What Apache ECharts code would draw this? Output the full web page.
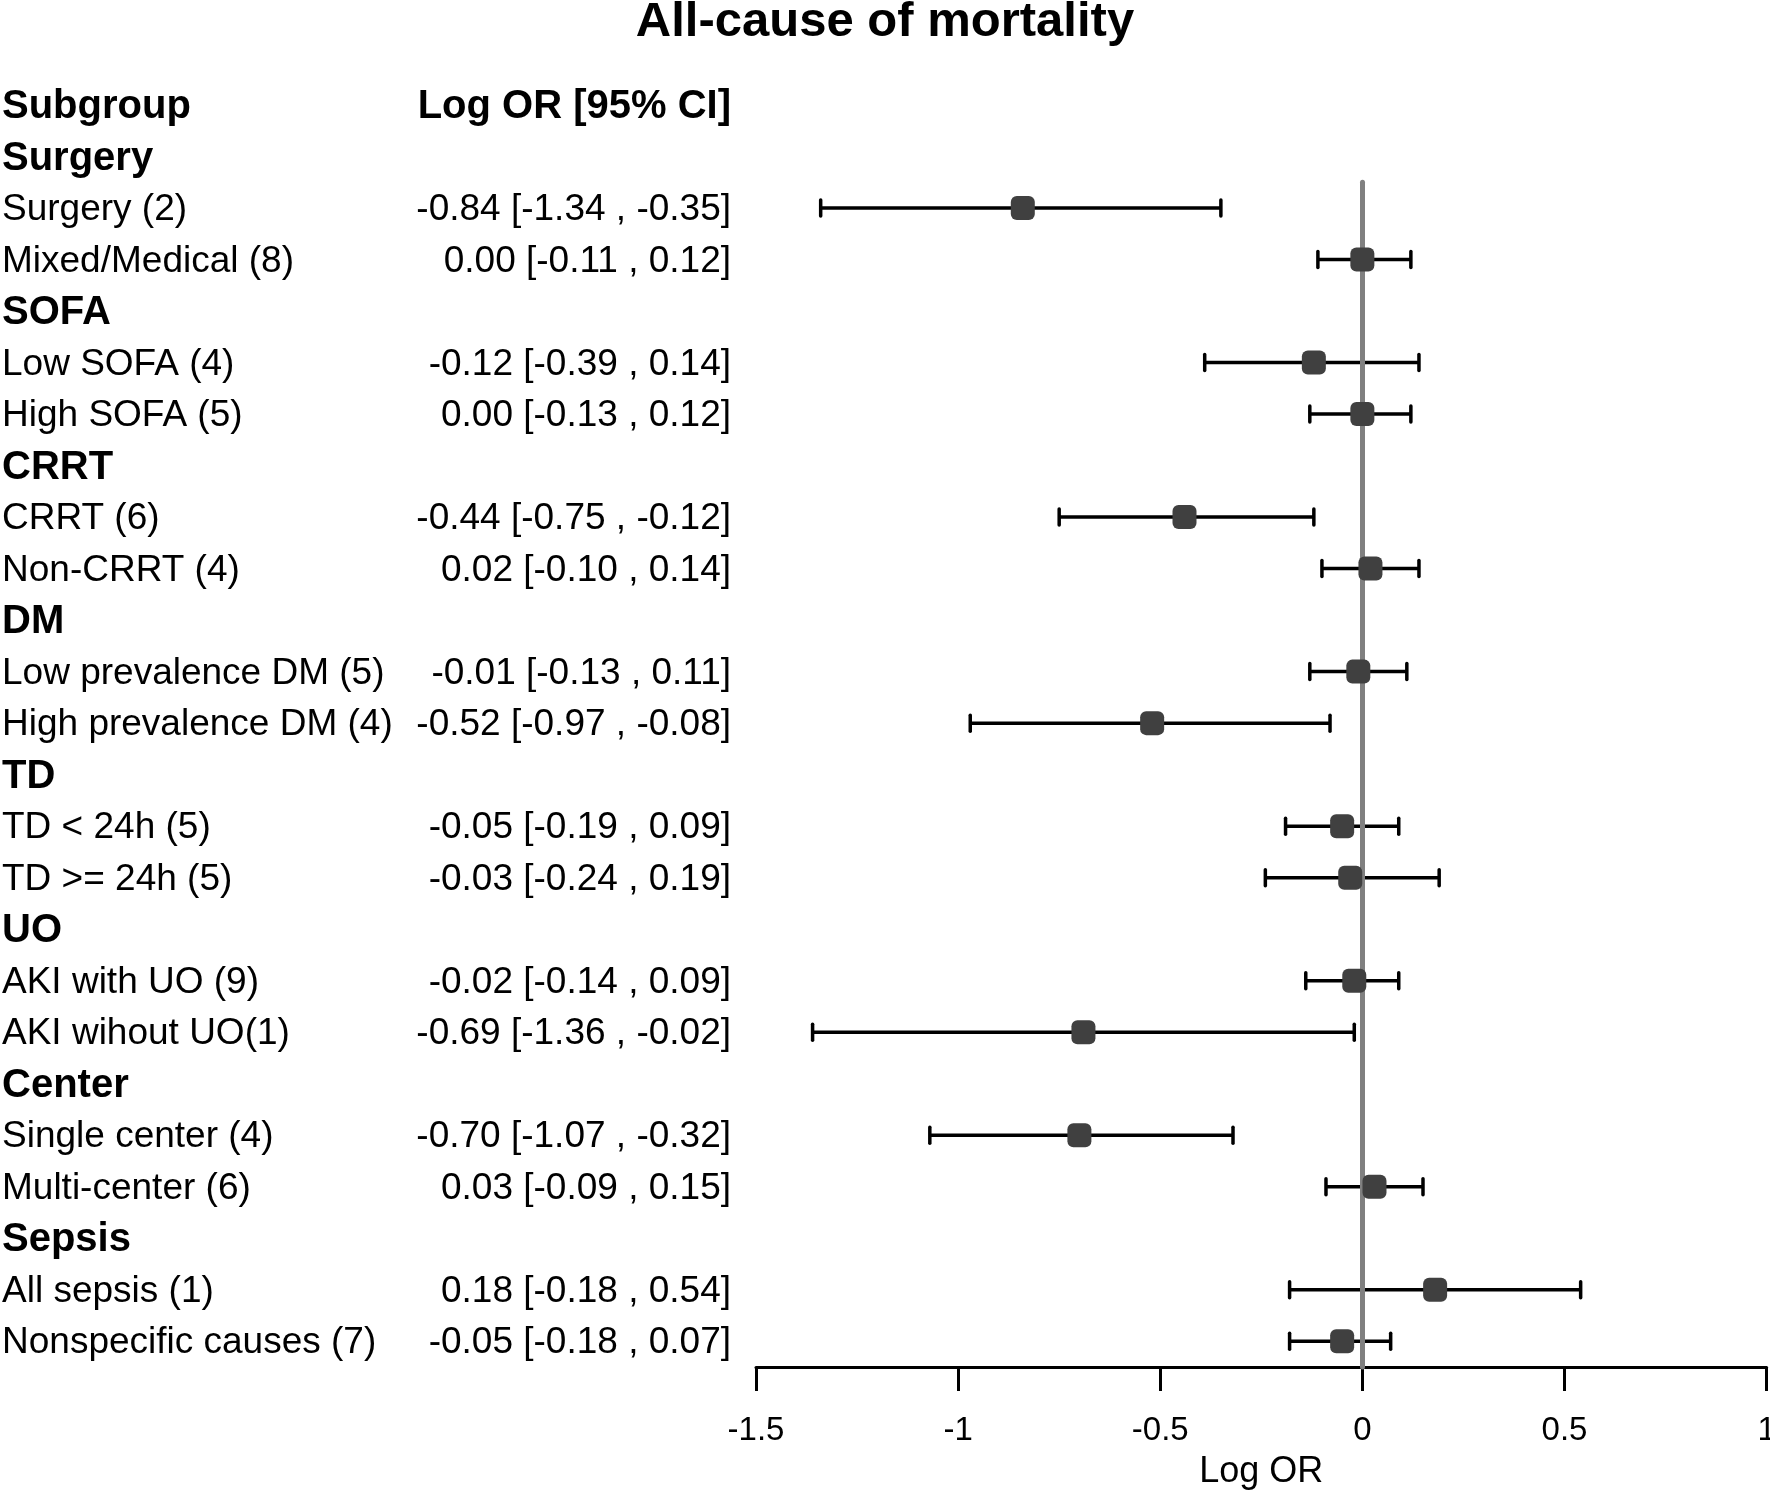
<!DOCTYPE html>
<html>
<head>
<meta charset="utf-8">
<script src="https://cdn.jsdelivr.net/npm/echarts@6/dist/echarts.min.js"></script>
<style>
  html, body { margin: 0; padding: 0; background: #fff; }
  #chart { width: 1770px; height: 1491px; }
</style>
</head>
<body>
<div id="chart"></div>
<script>
const groups = ["Surgery", "SOFA", "CRRT", "DM", "TD", "UO", "Center", "Sepsis"]
const subgroups = [
    ["Surgery (2)", "Mixed/Medical (8)"],
    ["Low SOFA (4)", "High SOFA (5)"],
    ["CRRT (6)", "Non-CRRT (4)"],
    ["Low prevalence DM (5)", "High prevalence DM (4)"],
    ["TD < 24h (5)", "TD >= 24h (5)"],
    ["AKI with UO (9)", "AKI wihout UO(1)"],
    ["Single center (4)", "Multi-center (6)"],
    ["All sepsis (1)", "Nonspecific causes (7)"]
]
const logOR = [-0.84, 0.00, -0.12, 0.00, -0.44, 0.02, -0.01, -0.52, -0.05, -0.03, -0.02, -0.69, -0.70, 0.03, 0.18, -0.05]
const lower = [-1.34, -0.11, -0.39, -0.13, -0.75, -0.10, -0.13, -0.97, -0.19, -0.24, -0.14, -1.36, -1.07, -0.09, -0.18, -0.18]
const upper = [-0.35, 0.12, 0.14, 0.12, -0.12, 0.14, 0.11, -0.08, 0.09, 0.19, 0.09, -0.02, -0.32, 0.15, 0.54, 0.07]
const xTicks = [-1.5, 1, 0.5]  // min, max, interval

const FONT = "'Liberation Sans', Arial, sans-serif"
const fmt = v => (Math.abs(v) < 0.005 ? 0 : v).toFixed(2)

// build table rows: 0 = header, then group title + its subgroups
let rows = [{ i: 0, left: "Subgroup", right: "Log OR [95% CI]", bold: true }]
let points = []
let k = 0
groups.forEach((g, gi) => {
    rows.push({ i: rows.length, left: g, right: "", bold: true })
    subgroups[gi].forEach(s => {
        let i = rows.length
        rows.push({
            i: i, left: s, bold: false,
            right: fmt(logOR[k]) + " [" + fmt(lower[k]) + " , " + fmt(upper[k]) + "]"
        })
        points.push({ i: i, est: logOR[k], lo: lower[k], hi: upper[k] })
        k++
    })
})
const lastRow = rows.length - 1

let textItems = []
rows.forEach(r => {
    textItems.push({ value: [2, r.i], text: r.left, align: "left", bold: r.bold })
    if (r.right) textItems.push({ value: [731, r.i], text: r.right, align: "right", bold: r.bold })
})

const gridTop = 53.5, gridBottom = 124

let chart = echarts.init(document.getElementById("chart"), null, { renderer: "canvas" })
chart.setOption({
    animation: false,
    backgroundColor: "#fff",
    title: {
        text: "All-cause of mortality",
        left: "center",
        top: -2,
        padding: 0,
        textStyle: { fontFamily: FONT, fontSize: 49, fontWeight: "bold", color: "#000" }
    },
    grid: [
        { left: 756, right: 3.4, top: gridTop, bottom: gridBottom, containLabel: false, outerBoundsMode: "none" },
        { left: 0, width: 756, top: gridTop, bottom: gridBottom, containLabel: false, outerBoundsMode: "none" }
    ],
    xAxis: [
        {
            type: "value", gridIndex: 0, position: "bottom",
            min: xTicks[0], max: xTicks[1], interval: xTicks[2],
            name: "Log OR", nameLocation: "middle", nameGap: 87,
            nameTextStyle: { fontFamily: FONT, fontSize: 36, color: "#000" },
            axisLine: { show: true, onZero: false, lineStyle: { color: "#000", width: 3 } },
            axisTick: { show: true, inside: false, length: 24, lineStyle: { color: "#000", width: 3 } },
            axisLabel: { margin: 47, fontFamily: FONT, fontSize: 33, color: "#000", hideOverlap: false },
            splitLine: { show: false }
        },
        { type: "value", gridIndex: 1, min: 0, max: 756, show: false }
    ],
    yAxis: [
        { type: "value", gridIndex: 0, min: -1, max: lastRow + 0.5, inverse: true, show: false },
        { type: "value", gridIndex: 1, min: -1, max: lastRow + 0.5, inverse: true, show: false }
    ],
    series: [
        {
            type: "custom",
            xAxisIndex: 0, yAxisIndex: 0,
            z: 2,
            clip: false,
            data: points.map(p => [p.lo, p.i, p.hi]),
            renderItem: function(params, api) {
                let a = api.coord([api.value(0), api.value(1)])
                let b = api.coord([api.value(2), api.value(1)])
                let h = 8
                let st = { stroke: "#000", lineWidth: 3.5 }
                return {
                    type: "group",
                    children: [
                        { type: "line", shape: { x1: a[0], y1: a[1], x2: b[0], y2: b[1] }, style: st },
                        { type: "line", shape: { x1: a[0], y1: a[1] - h, x2: a[0], y2: a[1] + h }, style: Object.assign({ lineCap: "round" }, st) },
                        { type: "line", shape: { x1: b[0], y1: b[1] - h, x2: b[0], y2: b[1] + h }, style: Object.assign({ lineCap: "round" }, st) }
                    ]
                }
            },
            markLine: {
                silent: true,
                symbol: "none",
                z: 3,
                label: { show: false },
                lineStyle: { color: "#808080", width: 5, type: "solid", cap: "round" },
                data: [[{ coord: [0, 1.5] }, { coord: [0, lastRow + 0.5] }]]
            }
        },
        {
            type: "scatter",
            xAxisIndex: 0, yAxisIndex: 0,
            z: 4,
            symbol: "roundRect",
            symbolSize: 24,
            itemStyle: { color: "#404040", opacity: 1 },
            data: points.map(p => [p.est, p.i])
        },
        {
            type: "custom",
            xAxisIndex: 1, yAxisIndex: 1,
            clip: false,
            data: textItems.map(t => t.value),
            renderItem: function(params, api) {
                let t = textItems[params.dataIndex]
                let p = api.coord([api.value(0), api.value(1)])
                return {
                    type: "text",
                    x: p[0], y: p[1] + 2,
                    style: {
                        text: t.text,
                        fill: "#000",
                        fontFamily: FONT,
                        fontSize: t.bold ? 40 : 37,
                        fontWeight: t.bold ? "bold" : "normal",
                        align: t.align,
                        verticalAlign: "middle"
                    }
                }
            }
        }
    ]
})
</script>
</body>
</html>
